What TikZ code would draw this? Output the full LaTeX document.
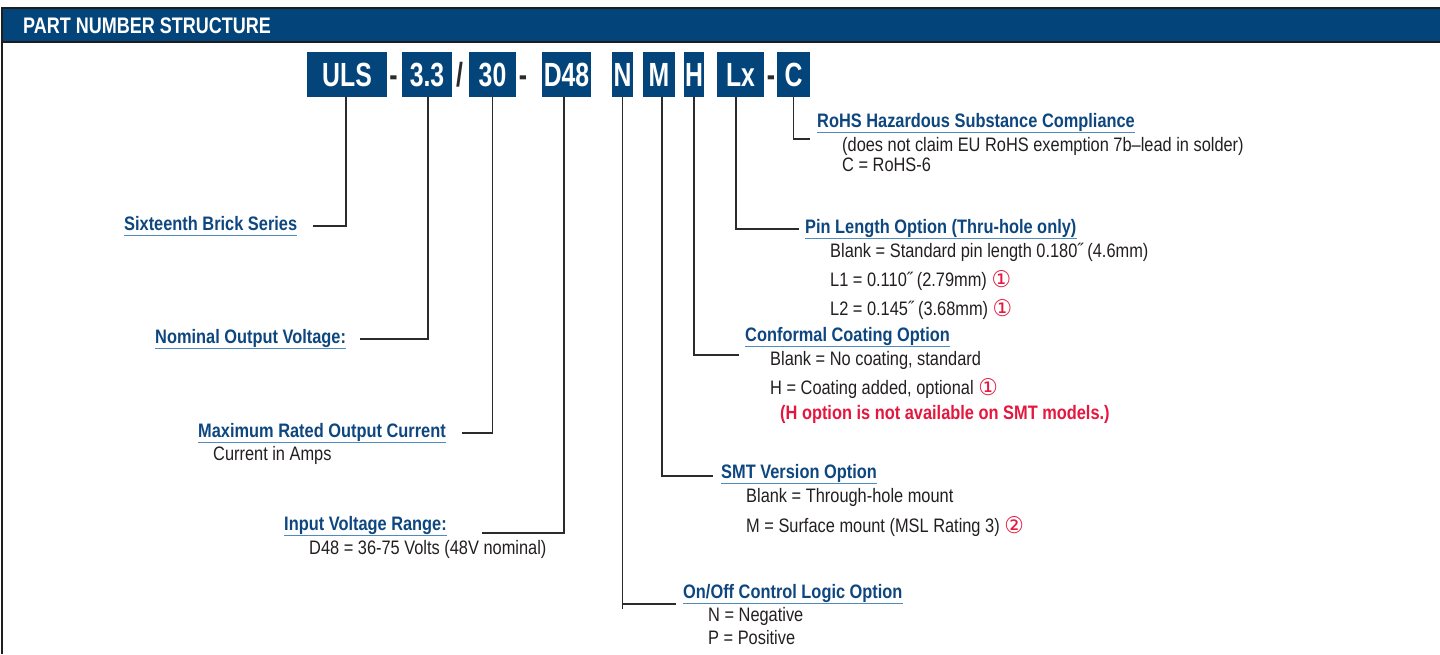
\documentclass[tikz,border=0pt]{standalone}
\usepackage{fontspec}
\setmainfont{Liberation Sans}[FakeStretch=0.84]
\newfontfamily\boxfont{Liberation Sans}[FakeStretch=0.74]
\newfontfamily\titlefont{Liberation Sans}[FakeStretch=0.8]
\newfontfamily\symfont{DejaVu Sans}[FakeStretch=0.95]
\definecolor{hdrblue}{HTML}{03457A}
\definecolor{labblue}{HTML}{0E477F}
\definecolor{ulblue}{HTML}{4F8BC0}
\definecolor{notered}{HTML}{E4173E}
\definecolor{bodytext}{HTML}{231F20}
\definecolor{linegray}{HTML}{2B2B2B}
\definecolor{framegray}{HTML}{1E1E1E}
\newcommand{\cnum}[1]{\raisebox{-1pt}{\symfont\fontsize{23}{24}\selectfont\color{notered}#1}}
\begin{document}
\begin{tikzpicture}[x=1pt,y=-1pt,
  pbox/.style={fill=hdrblue, text=white, inner sep=0pt, minimum height=45pt,
    text height=24pt, text depth=0pt,
    font=\boxfont\bfseries\fontsize{33.5}{34}\selectfont},
  sepmark/.style={text=linegray, inner sep=0pt, text height=24pt, text depth=0pt,
    font=\boxfont\bfseries\fontsize{33.5}{34}\selectfont},
  lab/.style={anchor=base west, inner sep=0pt, text=labblue,
    font=\bfseries\fontsize{19.5}{21}\selectfont},
  body/.style={anchor=base west, inner sep=0pt, text=bodytext,
    font=\fontsize{19.5}{21}\selectfont},
  note/.style={anchor=base west, inner sep=0pt, text=notered,
    font=\bfseries\fontsize{19.5}{21}\selectfont},
  conn/.style={draw=linegray, line width=1.3pt},
  uline/.style={draw=ulblue, line width=1.3pt},
  title/.style={anchor=base west, inner sep=0pt, text=white,
    font=\titlefont\bfseries\fontsize{22.5}{24}\selectfont}]
\useasboundingbox (0,0) rectangle (1440,654);
% header and frame
\fill[hdrblue] (1,8) rectangle (1440,41.5);
\draw[framegray, line width=2pt] (1.5,654) -- (1.5,7.5) -- (1440,7.5);
\draw[framegray, line width=1.5pt] (1.5,42) -- (1440,42);
\node[title] (ttl) at (23,33.5) {PART NUMBER STRUCTURE};
% part number boxes
\node[pbox, minimum width=80pt] (uls) at (347,74.5) {ULS};
\node[sepmark] (s1) at (393.5,74.5) {-};
\node[pbox, minimum width=50pt] (v33) at (427,74.5) {3.3};
\node[sepmark] (s2) at (459.5,74.5) {/};
\node[pbox, minimum width=47pt] (i30) at (492.5,74.5) {30};
\node[sepmark] (s3) at (523,74.5) {-};
\node[pbox, minimum width=49pt] (d48) at (566.5,74.5) {D48};
\node[pbox, minimum width=21pt] (nn) at (622.5,74.5) {N};
\node[pbox, minimum width=32pt] (mm) at (659,74.5) {M};
\node[pbox, minimum width=20pt] (hh) at (694,74.5) {H};
\node[pbox, minimum width=47pt] (lx) at (740.5,74.5) {Lx};
\node[sepmark] (s4) at (771,74.5) {-};
\node[pbox, minimum width=33pt] (cc) at (793.5,74.5) {C};
% labels
\node[lab] (l1) at (124,230) {Sixteenth Brick Series};
\node[lab] (l2) at (155,343) {Nominal Output Voltage:};
\node[lab] (l3) at (198,437) {Maximum Rated Output Current};
\node[body] (b3) at (213,460) {Current in Amps};
\node[lab] (l4) at (284,530) {Input Voltage Range:};
\node[body] (b4) at (309,554) {D48 = 36-75 Volts (48V nominal)};
\node[lab] (l5) at (683,598) {On/Off Control Logic Option};
\node[body] (b5a) at (708,621) {N = Negative};
\node[body] (b5b) at (708,644) {P = Positive};
\node[lab] (l6) at (721,478) {SMT Version Option};
\node[body] (b6a) at (746,502) {Blank = Through-hole mount};
\node[body] (b6b) at (746,532) {M = Surface mount (MSL Rating 3) \cnum{②}};
\node[lab] (l7) at (745,341) {Conformal Coating Option};
\node[body] (b7a) at (770,365) {Blank = No coating, standard};
\node[body] (b7b) at (770,394) {H = Coating added, optional \cnum{①}};
\node[note] (b7c) at (780,419) {(H option is not available on SMT models.)};
\node[lab] (l8) at (805,233) {Pin Length Option (Thru-hole only)};
\node[body] (b8a) at (830,257) {Blank = Standard pin length 0.180˝ (4.6mm)};
\node[body] (b8b) at (830,286) {L1 = 0.110˝ (2.79mm) \cnum{①}};
\node[body] (b8c) at (830,315) {L2 = 0.145˝ (3.68mm) \cnum{①}};
\node[lab] (l9) at (817,127) {RoHS Hazardous Substance Compliance};
\node[body] (b9a) at (842,151) {(does not claim EU RoHS exemption 7b–lead in solder)};
\node[body] (b9b) at (842,171) {C = RoHS-6};
% underlines
\foreach \n in {l1,l2,l3,l4,l5,l6,l7,l8,l9}
  \draw[uline] ([yshift=-5.5pt]\n.base west) -- ([yshift=-5.5pt]\n.base east);
% connector ends
\coordinate (e1) at (313,226);
\coordinate (e2) at (360,339);
\coordinate (e3) at (462,433);
\coordinate (e4) at (482,533);
\coordinate (e5) at (676,604);
\coordinate (e5b) at (623,609);
\coordinate (e6) at (713,476);
\coordinate (e7) at (739,355);
\coordinate (e8) at (799,229);
\coordinate (e9) at (810,139);
% connectors
\draw[conn] ([xshift=-1pt]uls.south) |- (e1);
\draw[conn] ([xshift=1pt]v33.south) |- (e2);
\draw[conn] (i30.south) |- (e3);
\draw[conn] ([xshift=-2.5pt]d48.south) |- (e4);
\draw[conn] (nn.south) -- (nn.south |- e5b);
\draw[conn] (nn.south |- e5) -- (e5);
\draw[conn] ([xshift=3pt]mm.south) |- (e6);
\draw[conn] (hh.south) |- (e7);
\draw[conn] ([xshift=-4.5pt]lx.south) |- (e8);
\draw[conn] (cc.south) |- (e9);
\end{tikzpicture}
\end{document}
